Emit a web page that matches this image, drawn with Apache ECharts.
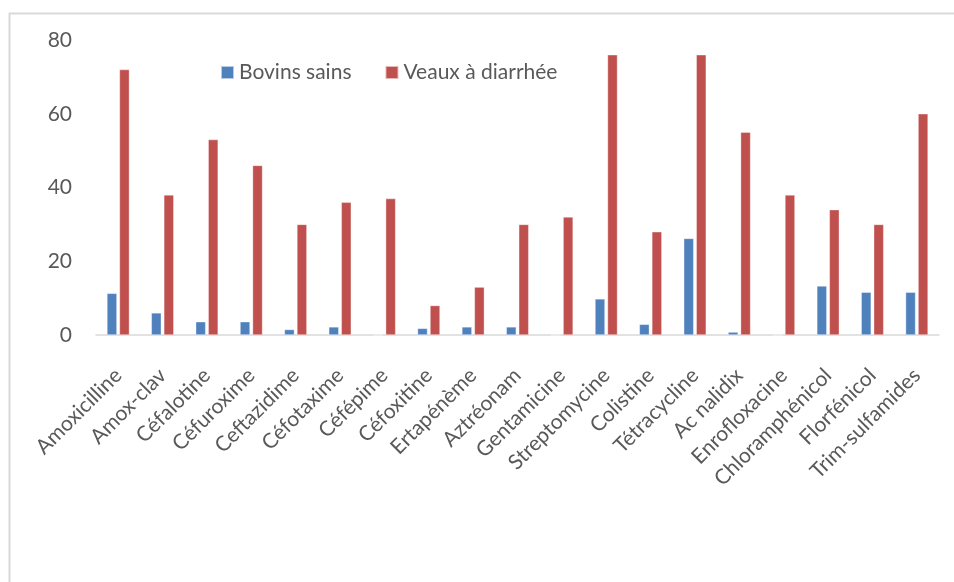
<!DOCTYPE html>
<html>
<head>
<meta charset="utf-8">
<script src="https://cdn.jsdelivr.net/npm/echarts@6/dist/echarts.min.js"></script>
<style>
  html, body { margin: 0; padding: 0; background: #fff; }
  #chart { width: 954px; height: 582px; }
</style>
</head>
<body>
<div id="chart"></div>
<script>
// Antibiotics tested
const categories = [
  'Amoxicilline', 'Amox-clav', 'Céfalotine', 'Céfuroxime', 'Ceftazidime',
  'Céfotaxime', 'Céfépime', 'Céfoxitine', 'Ertapénème', 'Aztréonam',
  'Gentamicine', 'Streptomycine', 'Colistine', 'Tétracycline', 'Ac nalidix',
  'Enrofloxacine', 'Chloramphénicol', 'Florfénicol', 'Trim-sulfamides'
];

// Resistance rates (%)
const bovinsSains = [11.3, 6.0, 3.6, 3.6, 1.5, 2.2, 0, 1.8, 2.2, 2.2, 0, 9.8, 2.9, 26.2, 0.8, 0, 13.3, 11.6, 11.6];
const veauxDiarrhee = [72, 38, 53, 46, 30, 36, 37, 8, 13, 30, 32, 76, 28, 76, 55, 38, 34, 30, 60];

const seriesNames = ['Bovins sains', 'Veaux à diarrhée'];
const yTicks = { min: 0, max: 80, interval: 20 };

const FONT = 'Lato';
const TEXT = '#595959';
const FS = 21;

const chart = echarts.init(document.getElementById('chart'), null, { renderer: 'canvas' });

chart.setOption({
  animation: false,
  backgroundColor: '#ffffff',
  textStyle: { fontFamily: FONT },
  graphic: [{
    type: 'rect',
    left: 7, top: 11,
    shape: { width: 1100, height: 700 },
    style: { fill: 'none', stroke: '#d9d9d9', lineWidth: 2 },
    silent: true
  }],
  legend: {
    data: seriesNames,
    left: 215, top: 57,
    itemWidth: 13, itemHeight: 13, itemGap: 33,
    icon: 'rect',
    textStyle: { fontFamily: FONT, fontSize: FS, color: TEXT }
  },
  grid: { left: 96, right: 15, top: 40, bottom: 247 },
  xAxis: {
    type: 'category',
    data: categories,
    axisLine: { lineStyle: { color: '#d9d9d9', width: 1.5 } },
    axisTick: { show: false },
    axisLabel: {
      interval: 0, rotate: 45, margin: 37,
      fontFamily: FONT, fontSize: FS, color: TEXT
    }
  },
  yAxis: {
    type: 'value',
    min: yTicks.min, max: yTicks.max, interval: yTicks.interval,
    axisLine: { show: false },
    axisTick: { show: false },
    splitLine: { show: false },
    axisLabel: { margin: 24, fontFamily: FONT, fontSize: FS, color: TEXT }
  },
  series: [
    {
      name: seriesNames[0], type: 'bar', data: bovinsSains,
      barWidth: 10, barGap: '25%',
      itemStyle: { color: '#4F81BD', borderColor: 'rgba(255,255,255,0.6)', borderWidth: 0.6 }
    },
    {
      name: seriesNames[1], type: 'bar', data: veauxDiarrhee,
      barWidth: 10,
      itemStyle: { color: '#C0504D', borderColor: 'rgba(255,255,255,0.6)', borderWidth: 0.6 }
    }
  ]
});
</script>
</body>
</html>
